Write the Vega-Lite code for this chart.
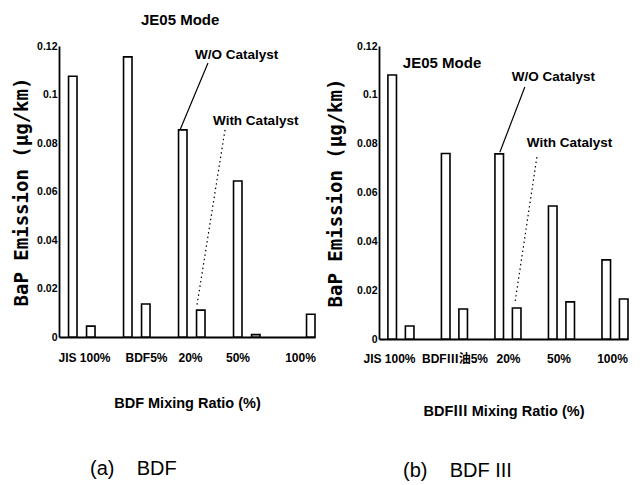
{
  "$schema": "https://vega.github.io/schema/vega-lite/v6.json",
  "background": "white",
  "padding": {"left": 12, "top": 13, "right": 4, "bottom": 4},
  "spacing": 10,
  "config": {
    "view": {"stroke": null},
    "axis": {"labelColor": "black", "titleColor": "black", "domainColor": "black", "grid": false, "ticks": false}
  },
  "datasets": {
    "left": [
      {"group": "JIS 100%", "series": "W/O Catalyst", "value": 0.1075},
      {"group": "JIS 100%", "series": "With Catalyst", "value": 0.0045},
      {"group": "BDF5%", "series": "W/O Catalyst", "value": 0.1155},
      {"group": "BDF5%", "series": "With Catalyst", "value": 0.0136},
      {"group": "20%", "series": "W/O Catalyst", "value": 0.0854},
      {"group": "20%", "series": "With Catalyst", "value": 0.0111},
      {"group": "50%", "series": "W/O Catalyst", "value": 0.0643},
      {"group": "50%", "series": "With Catalyst", "value": 0.001},
      {"group": "100%", "series": "With Catalyst", "value": 0.0094}
    ],
    "leftText": [
      {"group": "20%", "off": -0.836, "value": 0.1307, "text": "JE05 Mode"},
      {"group": "20%", "off": 0.145, "value": 0.1161, "text": "W/O Catalyst"},
      {"group": "20%", "off": 0.473, "value": 0.0889, "text": "With Catalyst"}
    ],
    "leftLines": [
      {"line": "wo", "pt": 1, "group": "20%", "off": -0.127, "value": 0.0854},
      {"line": "wo", "pt": 2, "group": "20%", "off": 0.382, "value": 0.113},
      {"line": "with", "pt": 1, "group": "20%", "off": 0.691, "value": 0.0854},
      {"line": "with", "pt": 2, "group": "20%", "off": 0.182, "value": 0.0132}
    ],
    "right": [
      {"group": "JIS 100%", "series": "W/O Catalyst", "value": 0.1081},
      {"group": "JIS 100%", "series": "With Catalyst", "value": 0.0053},
      {"group": "BDFⅢ油5%", "series": "W/O Catalyst", "value": 0.076},
      {"group": "BDFⅢ油5%", "series": "With Catalyst", "value": 0.0123},
      {"group": "20%", "series": "W/O Catalyst", "value": 0.0758},
      {"group": "20%", "series": "With Catalyst", "value": 0.0127},
      {"group": "50%", "series": "W/O Catalyst", "value": 0.0545},
      {"group": "50%", "series": "With Catalyst", "value": 0.0152},
      {"group": "100%", "series": "W/O Catalyst", "value": 0.0324},
      {"group": "100%", "series": "With Catalyst", "value": 0.0164}
    ],
    "rightText": [
      {"group": "BDFⅢ油5%", "off": -0.917, "value": 0.113, "text": "JE05 Mode"},
      {"group": "20%", "off": 0.118, "value": 0.1075, "text": "W/O Catalyst"},
      {"group": "20%", "off": 0.398, "value": 0.0803, "text": "With Catalyst"}
    ],
    "rightLines": [
      {"line": "wo", "pt": 1, "group": "20%", "off": -0.106, "value": 0.0765},
      {"line": "wo", "pt": 2, "group": "20%", "off": 0.36, "value": 0.1032},
      {"line": "with", "pt": 1, "group": "20%", "off": 0.585, "value": 0.0745},
      {"line": "with", "pt": 2, "group": "20%", "off": 0.174, "value": 0.0145}
    ]
  },
  "hconcat": [
    {
      "width": 256,
      "height": 291,
      "title": {"text": "(a)\u00a0\u00a0\u00a0\u00a0BDF", "orient": "bottom", "anchor": "start", "frame": "group", "dx": 31, "offset": 49, "font": "Liberation Sans", "fontSize": 20, "fontWeight": "normal", "color": "black"},
      "encoding": {
        "x": {
          "field": "group", "type": "nominal",
          "scale": {"domain": ["JIS 100%", "BDF5%", "20%", "50%", "100%"], "paddingInner": 0.345, "paddingOuter": 0},
          "title": "BDF Mixing Ratio (%)",
          "axis": {
            "labelAngle": 0, "domainWidth": 1.8,
            "labelFont": "Liberation Sans, Noto Sans CJK JP", "labelFontSize": 12, "labelFontWeight": "bold", "labelPadding": 15,
            "labelOffset": {"condition": [
              {"test": "datum.value === 'JIS 100%'", "value": 7.5},
              {"test": "datum.value === 'BDF5%'", "value": 14.5},
              {"test": "datum.value === '50%'", "value": -4}
            ], "value": 3.5},
            "titleFont": "Liberation Sans", "titleFontSize": 14.5, "titleFontWeight": "bold", "titlePadding": 33
          }
        },
        "y": {
          "field": "value", "type": "quantitative",
          "scale": {"domain": [0, 0.12]},
          "title": "BaP Emission (μg/km)",
          "axis": {
            "values": [0, 0.02, 0.04, 0.06, 0.08, 0.1, 0.12], "format": ".2~f", "domainWidth": 1.8,
            "labelFont": "Liberation Sans", "labelFontSize": 10.5, "labelFontWeight": "bold", "labelPadding": 2,
            "titleFont": "DejaVu Sans Mono", "titleFontSize": 19, "titleFontWeight": "bold", "titlePadding": 5
          }
        }
      },
      "layer": [
        {
          "data": {"name": "left"},
          "mark": {"type": "bar", "fill": "white", "stroke": "black", "strokeWidth": 1.6, "width": {"band": 0.47}},
          "encoding": {
            "xOffset": {"field": "series", "type": "nominal", "sort": null, "scale": {"paddingInner": 0, "paddingOuter": 0}}
          }
        },
        {
          "data": {"name": "leftLines"},
          "mark": {"type": "line", "color": "black", "strokeWidth": 1.2, "clip": false},
          "encoding": {
            "xOffset": {"field": "off", "type": "quantitative", "scale": {"domain": [-0.5, 0.5], "range": [-9.5, 45.5]}},
            "detail": {"field": "line"},
            "order": {"field": "pt"},
            "strokeDash": {"field": "line", "type": "nominal", "scale": {"domain": ["wo", "with"], "range": [[1, 0], [1.5, 3]]}, "legend": null}
          }
        },
        {
          "data": {"name": "leftText"},
          "mark": {"type": "text", "align": "left", "baseline": "middle", "font": "Liberation Sans", "fontSize": 13.5, "fontWeight": "bold", "color": "black", "clip": false},
          "encoding": {
            "xOffset": {"field": "off", "type": "quantitative", "scale": {"domain": [-0.5, 0.5], "range": [-9.5, 45.5]}},
            "text": {"field": "text"},
            "size": {"condition": {"test": "datum.text === 'JE05 Mode'", "value": 15}, "value": 13.5}
          }
        }
      ],
      "resolve": {"scale": {"xOffset": "independent"}}
    },
    {
      "width": 249,
      "height": 293,
      "title": {"text": "(b)\u00a0\u00a0\u00a0\u00a0BDF\u00a0III", "orient": "bottom", "anchor": "start", "frame": "group", "dx": 24, "offset": 43, "font": "Liberation Sans", "fontSize": 20, "fontWeight": "normal", "color": "black"},
      "encoding": {
        "x": {
          "field": "group", "type": "nominal",
          "scale": {"domain": ["JIS 100%", "BDFⅢ油5%", "20%", "50%", "100%"], "paddingInner": 0.347, "paddingOuter": 0},
          "title": "BDFⅢ Mixing Ratio (%)",
          "axis": {
            "labelAngle": 0, "domainWidth": 1.8,
            "labelFont": "Liberation Sans, Noto Sans CJK JP", "labelFontSize": 12, "labelFontWeight": "bold", "labelPadding": 14,
            "labelOffset": {"condition": [
              {"test": "datum.value === 'JIS 100%'", "value": -7},
              {"test": "datum.value === 'BDFⅢ油5%'", "value": 5},
              {"test": "datum.value === '20%'", "value": 5}
            ], "value": 2},
            "titleFont": "Liberation Sans, Noto Sans CJK JP", "titleFontSize": 14.5, "titleFontWeight": "bold", "titlePadding": 40
          }
        },
        "y": {
          "field": "value", "type": "quantitative",
          "scale": {"domain": [0, 0.12]},
          "title": "BaP Emission (μg/km)",
          "axis": {
            "values": [0, 0.02, 0.04, 0.06, 0.08, 0.1, 0.12], "format": ".2~f", "domainWidth": 1.8,
            "labelFont": "Liberation Sans", "labelFontSize": 10.5, "labelFontWeight": "bold", "labelPadding": 2,
            "titleFont": "DejaVu Sans Mono", "titleFontSize": 19, "titleFontWeight": "bold", "titlePadding": 11
          }
        }
      },
      "layer": [
        {
          "data": {"name": "right"},
          "mark": {"type": "bar", "fill": "white", "stroke": "black", "strokeWidth": 1.6, "width": {"band": 0.49}},
          "encoding": {
            "xOffset": {"field": "series", "type": "nominal", "sort": null, "scale": {"paddingInner": 0, "paddingOuter": 0}}
          }
        },
        {
          "data": {"name": "rightLines"},
          "mark": {"type": "line", "color": "black", "strokeWidth": 1.2, "clip": false},
          "encoding": {
            "xOffset": {"field": "off", "type": "quantitative", "scale": {"domain": [-0.5, 0.5], "range": [-7.3, 46.3]}},
            "detail": {"field": "line"},
            "order": {"field": "pt"},
            "strokeDash": {"field": "line", "type": "nominal", "scale": {"domain": ["wo", "with"], "range": [[1, 0], [1.5, 3]]}, "legend": null}
          }
        },
        {
          "data": {"name": "rightText"},
          "mark": {"type": "text", "align": "left", "baseline": "middle", "font": "Liberation Sans", "fontSize": 13.5, "fontWeight": "bold", "color": "black", "clip": false},
          "encoding": {
            "xOffset": {"field": "off", "type": "quantitative", "scale": {"domain": [-0.5, 0.5], "range": [-7.3, 46.3]}},
            "text": {"field": "text"},
            "size": {"condition": {"test": "datum.text === 'JE05 Mode'", "value": 15}, "value": 13.5}
          }
        }
      ],
      "resolve": {"scale": {"xOffset": "independent"}}
    }
  ]
}
